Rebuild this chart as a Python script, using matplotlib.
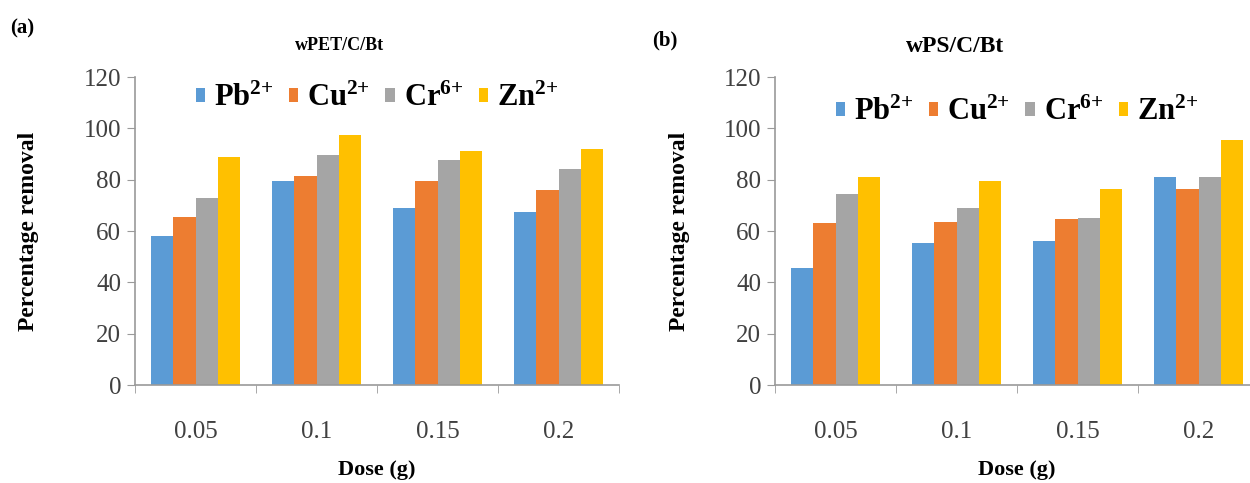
import matplotlib
matplotlib.use('Agg')
from matplotlib import pyplot as plt
import numpy as np

# data
doses = ['0.05', '0.1', '0.15', '0.2']
ions = ['Pb$^{2{+}}$', 'Cu$^{2{+}}$', 'Cr$^{6{+}}$', 'Zn$^{2{+}}$']
colors = ['#5B9BD5', '#ED7D31', '#A5A5A5', '#FFC000']

pet_pb = [58, 79.5, 69, 67.5]
pet_cu = [65.5, 81.5, 79.5, 76]
pet_cr = [73, 89.5, 87.5, 84]
pet_zn = [89, 97.5, 91, 92]

ps_pb = [45.5, 55.5, 56, 81]
ps_cu = [63, 63.5, 64.5, 76.5]
ps_cr = [74.5, 69, 65, 81]
ps_zn = [81, 79.5, 76.5, 95.5]

plt.rcParams['font.family'] = 'Liberation Serif'
plt.rcParams['mathtext.fontset'] = 'custom'
plt.rcParams['mathtext.rm'] = 'Liberation Serif:bold'
plt.rcParams['mathtext.default'] = 'rm'

axis_col = '#9a9a9a'
text_col = '#404040'


def bar_panel(ax, series, legend_y, ylab_pad):
    x = np.arange(len(doses))
    width = 0.183
    for i, (vals, lab, col) in enumerate(zip(series, ions, colors)):
        ax.bar(x + (i - 1.5) * width, vals, width, color=col, label=lab, zorder=2)
    ax.set_xlim(-0.5, len(doses) - 0.5)
    ax.set_ylim(0, 120)
    ax.set_yticks(range(0, 121, 20))
    ax.set_xticks(x)
    ax.set_xticklabels(doses)
    ax.set_xticks(np.arange(-0.5, len(doses), 1), minor=True)
    ax.tick_params(axis='x', which='major', length=0, pad=26, labelsize=18, labelcolor=text_col)
    ax.tick_params(axis='x', which='minor', length=6, color=axis_col, direction='out')
    ax.tick_params(axis='y', length=6, color=axis_col, labelsize=18, labelcolor=text_col, pad=4)
    for s in ['top', 'right']:
        ax.spines[s].set_visible(False)
    for s in ['left', 'bottom']:
        ax.spines[s].set_color(axis_col)
        ax.spines[s].set_linewidth(1.2)
    ax.set_xlabel('Dose (g)', fontsize=16, fontweight='bold', labelpad=12)
    ax.set_ylabel('Percentage removal', fontsize=17, fontweight='bold', labelpad=ylab_pad)
    ax.legend(loc='center', bbox_to_anchor=(0.5, legend_y), ncol=4, frameon=False,
              prop={'size': 22, 'weight': 'bold'}, handlelength=0.3, handleheight=0.3,
              handletextpad=0.3, columnspacing=0.5, borderaxespad=0)


fig = plt.figure(figsize=(12.5, 4.83), dpi=100)
ax1 = fig.add_axes([135 / 1250, 1 - 385 / 483, 484 / 1250, 308 / 483])
ax2 = fig.add_axes([775 / 1250, 1 - 385 / 483, 484 / 1250, 308 / 483])

bar_panel(ax1, [pet_pb, pet_cu, pet_cr, pet_zn], 0.93, 32)
bar_panel(ax2, [ps_pb, ps_cu, ps_cr, ps_zn], 0.885, 24)

fig.text(340 / 1250, 1 - 46 / 483, 'wPET/C/Bt', fontsize=13, fontweight='bold', ha='center', va='center')
fig.text(955 / 1250, 1 - 46 / 483, 'wPS/C/Bt', fontsize=17, fontweight='bold', ha='center', va='center')
fig.text(10 / 1250, 1 - 28 / 483, '(a)', fontsize=15, fontweight='bold', va='center')
fig.text(652 / 1250, 1 - 40 / 483, '(b)', fontsize=15, fontweight='bold', va='center')

fig.savefig('out.png', dpi=100)
